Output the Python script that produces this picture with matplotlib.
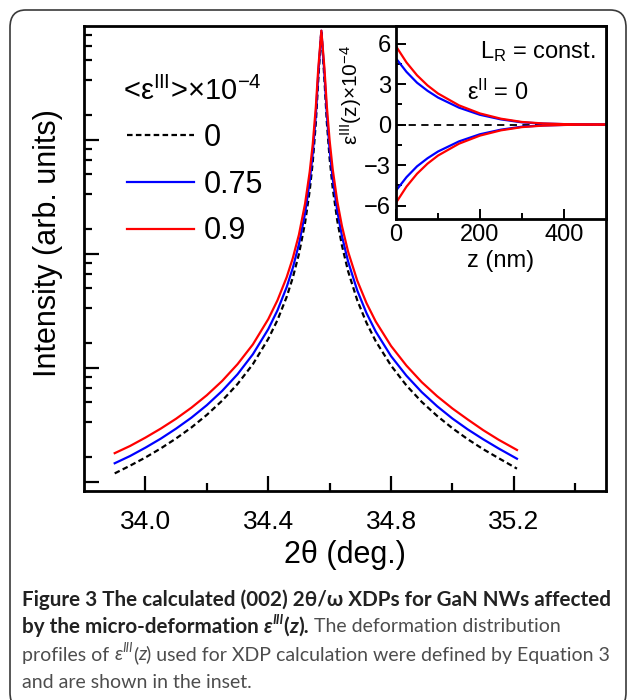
import matplotlib
matplotlib.use("Agg")
import matplotlib.pyplot as plt
from matplotlib.patches import FancyBboxPatch
from matplotlib.ticker import FixedLocator, NullFormatter

plt.rcParams['font.family'] = ['Liberation Sans', 'DejaVu Sans']
plt.rcParams['mathtext.default'] = 'regular'

# main plot: 2theta (deg) vs intensity (arb. units), log scale
two_theta = [33.90, 33.95, 34.00, 34.05, 34.10, 34.15, 34.20, 34.25, 34.30, 34.35,
             34.40, 34.43, 34.46, 34.48, 34.50, 34.52, 34.535, 34.545, 34.555, 34.563,
             34.573, 34.583, 34.591, 34.60, 34.61, 34.625, 34.64, 34.66, 34.69, 34.72,
             34.75, 34.80, 34.85, 34.90, 34.95, 35.00, 35.05, 35.10, 35.15, 35.21]
int_0 = [1.19, 1.39, 1.64, 1.97, 2.41, 3.01, 3.88, 5.17, 7.23, 10.8,
         18.0, 26.3, 42.0, 62.0, 100, 188, 358, 641, 1409, 3383,
         9100, 3383, 1409, 684, 378, 195, 119, 70.7, 39.2, 24.9,
         17.2, 10.5, 7.03, 5.04, 3.80, 2.96, 2.37, 1.94, 1.62, 1.31]
int_075 = [1.46, 1.69, 2.00, 2.40, 2.94, 3.67, 4.72, 6.30, 8.81, 13.2,
           21.9, 32.0, 51.2, 75.4, 122, 228, 433, 768, 1661, 3824,
           9100, 3824, 1661, 820, 457, 237, 144, 86.0, 47.8, 30.3,
           20.9, 12.7, 8.56, 6.14, 4.62, 3.60, 2.89, 2.37, 1.97, 1.60]
int_09 = [1.79, 2.07, 2.45, 2.94, 3.59, 4.49, 5.77, 7.70, 10.8, 16.1,
          26.8, 39.2, 62.5, 92.0, 148, 277, 525, 922, 1950, 4272,
          9100, 4272, 1950, 984, 552, 288, 176, 105, 58.3, 37.1,
          25.6, 15.6, 10.5, 7.51, 5.66, 4.41, 3.53, 2.85, 2.35, 1.91]
legend_labels = ['0', '0.75', '0.9']

# inset: strain profiles
z_nm = [0, 25, 50, 75, 100, 150, 200, 250, 300, 350, 400, 450, 500]
eps_blue = [4.9, 3.9, 3.1, 2.5, 2.0, 1.25, 0.72, 0.38, 0.16, 0.07, 0.03, 0.01, 0.0]
eps_red = [5.8, 4.6, 3.65, 2.9, 2.3, 1.42, 0.82, 0.43, 0.19, 0.08, 0.03, 0.01, 0.0]

W, H = 627, 700
fig = plt.figure(figsize=(W / 100, H / 100), dpi=100)

# rounded frame around the figure
frame = FancyBboxPatch((10 / W, -10 / H), 616 / W, 700 / H,
                       boxstyle="round,pad=0,rounding_size=0.025",
                       transform=fig.transFigure, fill=False,
                       edgecolor='#3a3a3a', linewidth=1.2)
fig.patches.append(frame)

ax = fig.add_axes([84 / W, 1 - 491 / H, 522 / W, 465 / H])
ax.plot(two_theta, int_0, color='black', linestyle=(0, (2.5, 1.5)), lw=1.6, label=legend_labels[0])
ax.plot(two_theta, int_075, color='#0000ff', lw=1.6, label=legend_labels[1])
ax.plot(two_theta, int_09, color='#ff0000', lw=1.6, label=legend_labels[2])
ax.set_yscale('log')
ax.set_xlim(33.8, 35.5)
ax.set_ylim(10 ** -0.079, 1e4)

ax.set_xticks([34.0, 34.4, 34.8, 35.2])
ax.set_xticklabels(['34.0', '34.4', '34.8', '35.2'])
ax.xaxis.set_minor_locator(FixedLocator([34.2, 34.6, 35.0, 35.4]))
ax.yaxis.set_major_locator(FixedLocator([1, 10, 100, 1000]))
ax.yaxis.set_minor_locator(FixedLocator([d * 10 * k / 6 for d in [1, 10, 100, 1000] for k in range(1, 6)]))
ax.yaxis.set_major_formatter(NullFormatter())
ax.yaxis.set_minor_formatter(NullFormatter())
ax.tick_params(which='both', direction='in', width=1.6, top=False, right=False)
ax.tick_params(which='major', length=11, labelsize=19, pad=14)
ax.tick_params(which='minor', length=6)
for s in ax.spines.values():
    s.set_linewidth(2)

ax.set_xlabel('2θ (deg.)', fontsize=22, labelpad=4)
ax.set_ylabel('Intensity (arb. units)', fontsize=22)
ax.yaxis.set_label_coords(-0.04, 0.533)

leg = ax.legend(title='<ε$^{III}$>×10$^{-4}$', loc='upper left', bbox_to_anchor=(0.03, 0.95),
                frameon=False, fontsize=22, title_fontsize=21, handlelength=2.2,
                labelspacing=0.55, handletextpad=0.3, alignment='left')
leg.get_title().set_position((-4, 0))

# inset
ins = fig.add_axes([396 / W, 1 - 219 / H, 210 / W, 193 / H])
ins.axhline(0, color='black', linestyle=(0, (4, 3)), lw=1.3)
ins.plot(z_nm, eps_blue, color='#0000ff', lw=1.6)
ins.plot(z_nm, [-v for v in eps_blue], color='#0000ff', lw=1.6)
ins.plot(z_nm, eps_red, color='#ff0000', lw=1.6)
ins.plot(z_nm, [-v for v in eps_red], color='#ff0000', lw=1.6)
ins.set_xlim(0, 500)
ins.set_ylim(-7, 7.3)
ins.set_xticks([0, 200, 400])
ins.set_yticks([-6, -3, 0, 3, 6])
ins.xaxis.set_minor_locator(FixedLocator([100, 300]))
ins.yaxis.set_minor_locator(FixedLocator([-4.5, -1.5, 1.5, 4.5]))
ins.tick_params(which='both', direction='in', width=1.4, top=False, right=False)
ins.tick_params(which='major', length=7, labelsize=17)
ins.tick_params(which='minor', length=4)
for s in ins.spines.values():
    s.set_linewidth(2)
ins.set_xlabel('z (nm)', fontsize=17, labelpad=3)
ins.set_ylabel('ε$^{III}$(z)×10$^{-4}$', fontsize=15)
ins.yaxis.set_label_coords(-0.15, 0.64)
ins.text(0.95, 0.93, 'L$_R$ = const.', transform=ins.transAxes, ha='right', va='top', fontsize=17)
ins.text(0.34, 0.72, 'ε$^{II}$ = 0', transform=ins.transAxes, ha='left', va='top', fontsize=17)

# caption
cap_font = ['Lato', 'DejaVu Sans']
renderer = fig.canvas.get_renderer()


def runs(x, y, parts):
    for txt, bold, italic, sup, col in parts:
        size = 9.5 if sup else (14.9 if bold else 14.0)
        yy = y - (7 if sup else 0)
        t = fig.text(x / W, 1 - yy / H, txt, fontsize=size, family=cap_font,
                     weight='bold' if bold else 'normal',
                     style='italic' if italic else 'normal', color=col, va='center')
        x += t.get_window_extent(renderer).width


dark = '#222222'
grey = '#4d4d4d'
runs(22, 600, [('Figure 3 The calculated (002) 2θ/ω XDPs for GaN NWs affected', True, False, False, dark)])
runs(22, 627, [('by the micro-deformation ', True, False, False, dark),
               ('ε', True, True, False, dark), ('III', True, True, True, dark),
               ('(', True, False, False, dark), ('z', True, True, False, dark),
               (').', True, False, False, dark),
               (' The deformation distribution', False, False, False, grey)])
runs(22, 655, [('profiles of ', False, False, False, grey), ('ε', False, True, False, grey),
               ('III', False, True, True, grey), ('(', False, False, False, grey),
               ('z', False, True, False, grey),
               (') used for XDP calculation were defined by Equation 3', False, False, False, grey)])
runs(22, 682, [('and are shown in the inset.', False, False, False, grey)])

fig.savefig('out.png', dpi=100)
